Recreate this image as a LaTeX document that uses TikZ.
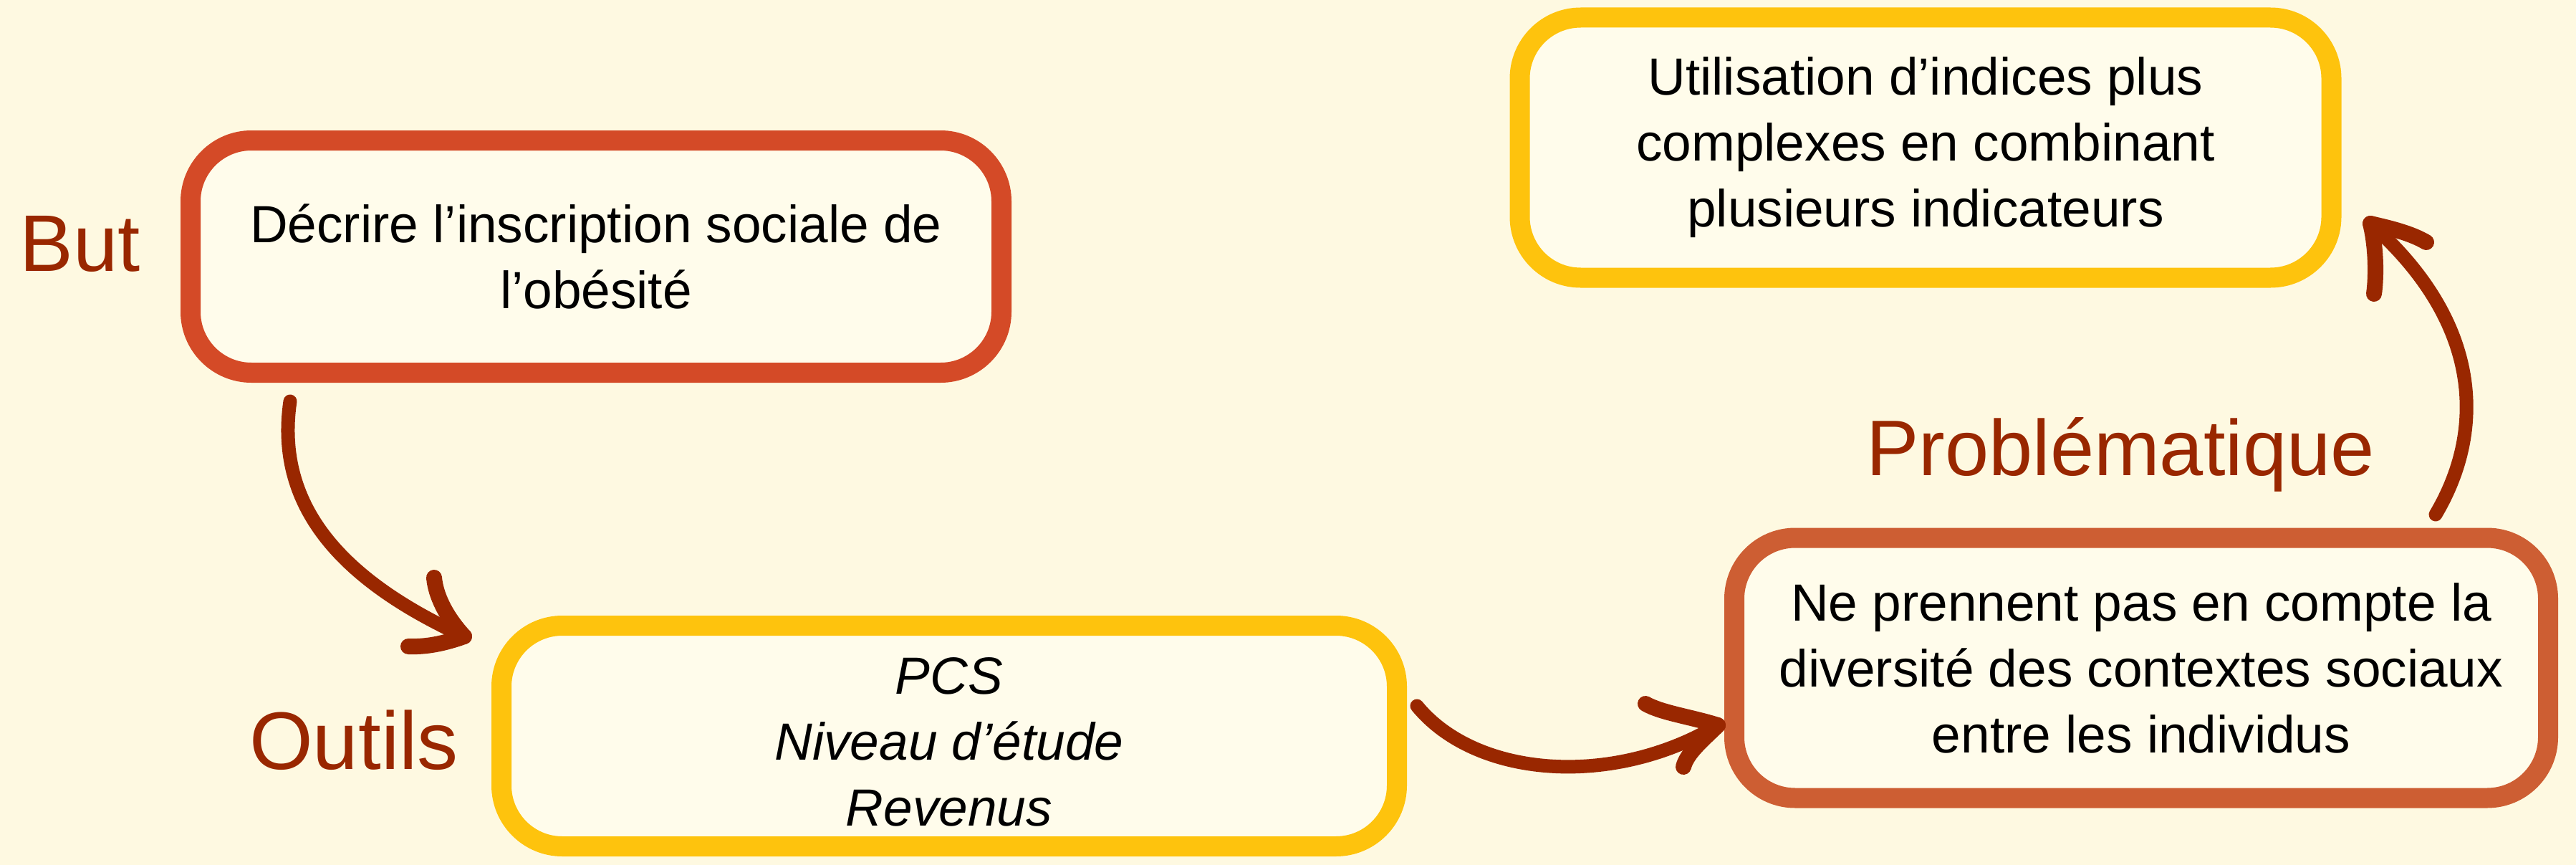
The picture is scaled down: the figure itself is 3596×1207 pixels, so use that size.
\documentclass[tikz,border=0pt]{standalone}
\usepackage{fontspec}
\setmainfont{Liberation Sans}
\definecolor{bgcol}{HTML}{FEF9E1}
\definecolor{boxfill}{HTML}{FFFCEB}
\definecolor{redline}{HTML}{D44A27}
\definecolor{yelline}{HTML}{FEC30D}
\definecolor{oraline}{HTML}{CD5E33}
\definecolor{arrowc}{HTML}{992700}
\begin{document}
\begin{tikzpicture}[x=1pt,y=-1pt,
  box/.style={draw, rounded corners=85pt, line width=28pt, fill=boxfill, align=center,
    inner sep=0pt, font=\fontsize{73}{92}\selectfont},
  lbl/.style={text=arrowc, anchor=base, inner sep=0pt},
  brush/.style={draw=arrowc, line width=19pt, line cap=round, line join=round},
  barb/.style={draw=arrowc, line width=22pt, line cap=round, line join=round}]
\fill[bgcol] (0,0) rectangle (3596,1207);
\useasboundingbox (0,0) rectangle (3596,1207);

% boxes
\node[box, draw=redline, minimum width=1132pt, minimum height=324pt] (but) at (832,358)
  {Décrire l’inscription sociale de\\l’obésité};
\node[box, draw=yelline, minimum width=1250pt, minimum height=308pt,
  font=\fontsize{73}{92}\selectfont\itshape] (outils) at (1325,1027)
  {\rule{0pt}{68pt}PCS\\Niveau d’étude\\Revenus};
\node[box, draw=oraline, minimum width=1136pt, minimum height=363pt] (prob) at (2989,932)
  {Ne prennent pas en compte la\\diversité des contextes sociaux\\entre les individus};
\node[box, draw=yelline, minimum width=1133pt, minimum height=363pt] (indices) at (2688,206)
  {Utilisation d’indices plus\\complexes en combinant\\plusieurs indicateurs};

% labels
\node[lbl, font=\fontsize{112}{112}\selectfont] (lbut) at (112,378) {But};
\node[lbl, font=\fontsize{114}{114}\selectfont] (loutils) at (494,1073) {Outils};
\node[lbl, font=\fontsize{110}{110}\selectfont] (lprob) at (2960,663) {Problématique};

% arrow ends
\coordinate (a1s) at (405,560);
\coordinate (a1e) at (648,888);
\coordinate (a2s) at (1978,985);
\coordinate (a2e) at (2398,1012);
\coordinate (a3s) at (3400,718);
\coordinate (a3e) at (3309,312);

% arrow 1
\draw[brush] (a1s) .. controls (386,690) and (455,800) .. (a1e);
\draw[barb] (a1e) .. controls (622,860) and (608,830) .. (606,806);
\draw[barb] (a1e) .. controls (620,898) and (595,903) .. (570,902);
% arrow 2
\draw[brush] (a2s) .. controls (2060,1085) and (2250,1100) .. (a2e);
\draw[barb] (a2e) .. controls (2360,1000) and (2320,995) .. (2297,982);
\draw[barb] (a2e) .. controls (2380,1030) and (2355,1050) .. (2350,1070);
% arrow 3
\draw[brush] (a3s) .. controls (3470,600) and (3465,450) .. (a3e);
\draw[barb] (a3e) .. controls (3335,318) and (3365,325) .. (3387,338);
\draw[barb] (a3e) .. controls (3316,340) and (3318,380) .. (3314,410);
\end{tikzpicture}
\end{document}
